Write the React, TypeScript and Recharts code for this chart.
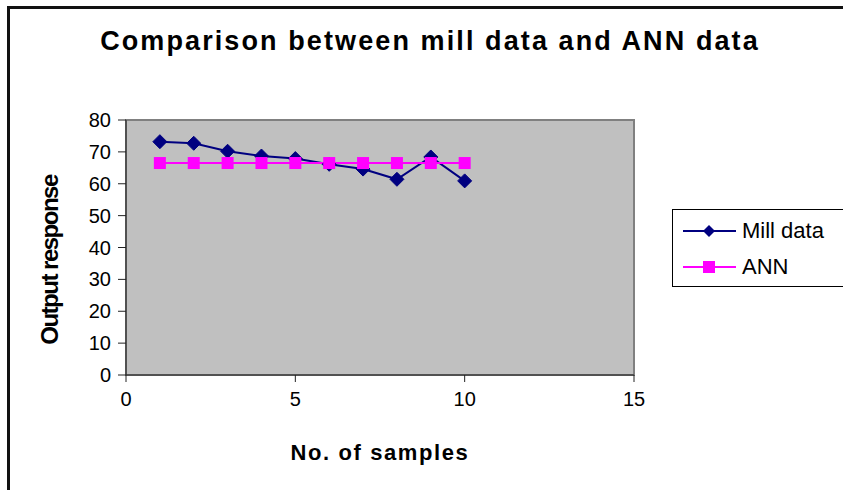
import React from "react";
import { LineChart, Line, XAxis, YAxis, ReferenceArea } from "recharts";

const samples = [1, 2, 3, 4, 5, 6, 7, 8, 9, 10];
const millData = [73.2, 72.7, 70.2, 68.7, 67.9, 66.1, 64.6, 61.4, 68.4, 60.9];
const annData = [66.5, 66.5, 66.5, 66.5, 66.5, 66.5, 66.5, 66.5, 66.5, 66.5];
const xTicks = [0, 5, 10, 15];
const yTicks = [0, 10, 20, 30, 40, 50, 60, 70, 80];

const data = samples.map((s, i) => ({ x: s, mill: millData[i], ann: annData[i] }));

const FONT = "'Liberation Sans', Arial, sans-serif";

const Diamond = (props: any) => {
  const { cx, cy } = props;
  if (cx == null || cy == null) return null;
  const r = 7;
  return (
    <polygon
      points={`${cx},${cy - r} ${cx + r},${cy} ${cx},${cy + r} ${cx - r},${cy}`}
      fill="#000080"
      stroke="#000080"
    />
  );
};

const Square = (props: any) => {
  const { cx, cy } = props;
  if (cx == null || cy == null) return null;
  return <rect x={cx - 6} y={cy - 6} width={12} height={12} fill="#ff00ff" />;
};

const legendItems = [
  { name: "Mill data", color: "#000080", shape: "diamond" },
  { name: "ANN", color: "#ff00ff", shape: "square" },
];

function LegendBox() {
  return (
    <div
      style={{
        position: "absolute",
        left: 672,
        top: 209,
        border: "1px solid #000",
        background: "#fff",
        width: 190,
        height: 78,
        boxSizing: "border-box",
        paddingTop: 3,
        fontFamily: FONT,
      }}
    >
      {legendItems.map((it) => (
        <div key={it.name} style={{ display: "flex", alignItems: "center", height: 36 }}>
          <svg width={66} height={20} style={{ marginLeft: 8 }}>
            <line x1={2} y1={10} x2={55} y2={10} stroke={it.color} strokeWidth={2} />
            {it.shape === "diamond" ? (
              <polygon points="28,4 34,10 28,16 22,10" fill={it.color} />
            ) : (
              <rect x={22} y={4} width={12} height={12} fill={it.color} />
            )}
          </svg>
          <span style={{ fontSize: 22, color: "#000", marginLeft: -5 }}>{it.name}</span>
        </div>
      ))}
    </div>
  );
}

export default function App() {
  return (
    <div
      style={{
        position: "fixed",
        left: 0,
        top: 0,
        width: 843,
        height: 490,
        overflow: "hidden",
        background: "#fff",
      }}
    >
      <div
        style={{
          position: "absolute",
          left: 7,
          top: 6,
          width: 900,
          height: 600,
          borderLeft: "3px solid #111",
          borderTop: "3px solid #111",
        }}
      />
      <div
        style={{
          position: "absolute",
          left: 0,
          top: 26,
          width: 860,
          textAlign: "center",
          fontFamily: FONT,
          fontWeight: "bold",
          fontSize: 27,
          letterSpacing: 2.1,
          color: "#000",
        }}
      >
        Comparison between mill data and ANN data
      </div>
      <div style={{ position: "absolute", left: 0, top: 0 }}>
        <LineChart
          width={843}
          height={490}
          data={data}
          margin={{ top: 120, right: 209, bottom: 85, left: 66 }}
        >
          <ReferenceArea
            x1={0}
            x2={15}
            y1={0}
            y2={80}
            fill="#c0c0c0"
            fillOpacity={1}
            stroke="#808080"
            strokeWidth={2}
            ifOverflow="visible"
          />
          <XAxis
            type="number"
            dataKey="x"
            domain={[0, 15]}
            ticks={xTicks}
            height={30}
            tickSize={7}
            tickMargin={10}
            axisLine={{ stroke: "#222" }}
            tickLine={{ stroke: "#222" }}
            tick={{ fill: "#000", fontSize: 20, fontFamily: FONT }}
            label={{
              content: () => (
                <text
                  x={380}
                  y={460}
                  textAnchor="middle"
                  fontFamily={FONT}
                  fontWeight="bold"
                  fontSize={22}
                  letterSpacing={1.6}
                  fill="#000"
                >
                  No. of samples
                </text>
              ),
            }}
          />
          <YAxis
            type="number"
            domain={[0, 80]}
            ticks={yTicks}
            width={60}
            tickSize={8}
            tickMargin={7}
            axisLine={{ stroke: "#222" }}
            tickLine={{ stroke: "#222" }}
            tick={{ fill: "#000", fontSize: 20, fontFamily: FONT }}
            label={{
              content: () => (
                <text
                  x={58}
                  y={260}
                  transform="rotate(-90 58 260)"
                  textAnchor="middle"
                  fontFamily={FONT}
                  fontWeight="bold"
                  fontSize={24}
                  letterSpacing={-1.5}
                  fill="#000"
                >
                  Output response
                </text>
              ),
            }}
          />
          <Line
            dataKey="mill"
            name="Mill data"
            stroke="#000080"
            strokeWidth={2}
            dot={<Diamond />}
            isAnimationActive={false}
          />
          <Line
            dataKey="ann"
            name="ANN"
            stroke="#ff00ff"
            strokeWidth={2}
            dot={<Square />}
            isAnimationActive={false}
          />
        </LineChart>
      </div>
      <LegendBox />
    </div>
  );
}
